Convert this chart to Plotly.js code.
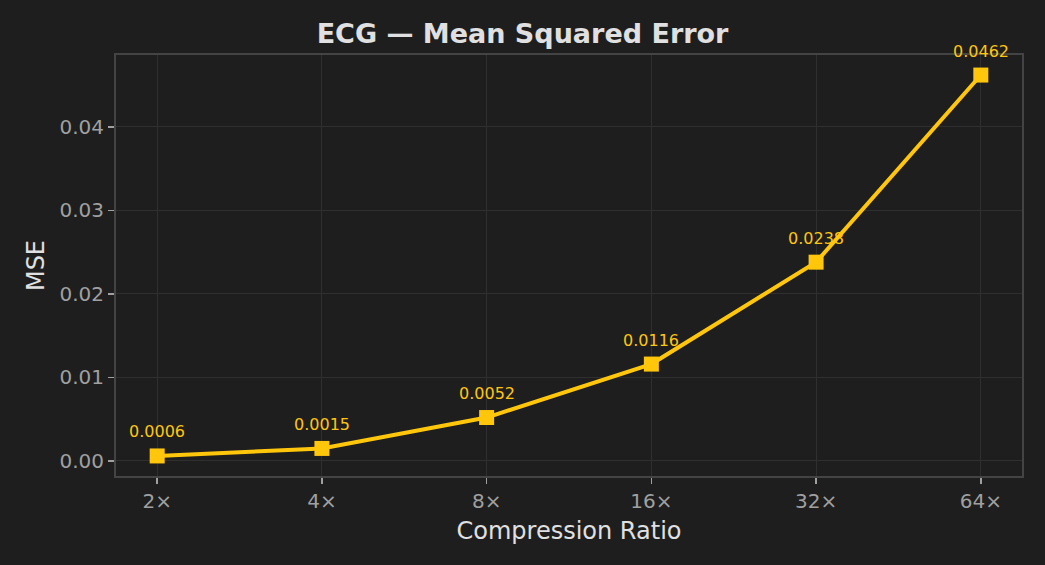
<!DOCTYPE html>
<html>
<head>
<meta charset="utf-8">
<script src="https://cdn.plot.ly/plotly-3.0.1.min.js"></script>
<style>html,body{margin:0;padding:0;background:#1e1e1e;}#chart{width:1045px;height:565px;}</style>
</head>
<body>
<div id="chart"></div>
<script>
const ratios = ["2×", "4×", "8×", "16×", "32×", "64×"];
const mse = [0.0006, 0.0015, 0.0052, 0.0116, 0.0238, 0.0462];
const labels = ["0.0006", "0.0015", "0.0052", "0.0116", "0.0238", "0.0462"];

const gold = "#FFC60B";
const font = "DejaVu Sans, sans-serif";

const trace = {
  x: ratios, y: mse, type: "scatter", mode: "lines+markers",
  line: {color: gold, width: 4},
  marker: {symbol: "square", size: 15, color: gold},
  hoverinfo: "skip"
};

const annotations = ratios.map((r, i) => ({
  x: r, y: mse[i], xref: "x", yref: "y", text: labels[i],
  showarrow: false, yshift: 24, font: {family: font, size: 16, color: gold}
}));

const layout = {
  width: 1045, height: 565,
  paper_bgcolor: "#1e1e1e", plot_bgcolor: "#1e1e1e",
  margin: {l: 116, r: 23, t: 55, b: 89},
  showlegend: false,
  title: {text: "<b>ECG — Mean Squared Error</b>", x: 0.5, xanchor: "center", y: 0.94, yanchor: "middle",
          font: {family: font, size: 27, color: "#e0e0e0"}},
  xaxis: {
    type: "category", range: [-0.25, 5.25],
    title: {text: "Compression Ratio", font: {family: font, size: 24, color: "#e0e0e0"}, standoff: 10},
    tickfont: {family: font, size: 20, color: "#a0a0a0"},
    showgrid: true, gridcolor: "#2f2f2f", gridwidth: 1,
    ticks: "outside", ticklen: 6, tickcolor: "#a0a0a0", tickwidth: 1.5,
    showline: true, linecolor: "#444444", linewidth: 2, mirror: true, zeroline: false
  },
  yaxis: {
    range: [-0.0018, 0.0486], dtick: 0.01, tick0: 0, tickformat: ".2f",
    title: {text: "MSE", font: {family: font, size: 24, color: "#e0e0e0"}, standoff: 8},
    tickfont: {family: font, size: 20, color: "#a0a0a0"},
    showgrid: true, gridcolor: "#2f2f2f", gridwidth: 1,
    ticks: "outside", ticklen: 6, tickcolor: "#a0a0a0", tickwidth: 1.5,
    showline: true, linecolor: "#444444", linewidth: 2, mirror: true, zeroline: false
  },
  annotations: annotations
};

Plotly.newPlot("chart", [trace], layout, {displayModeBar: false, staticPlot: true});
</script>
</body>
</html>
